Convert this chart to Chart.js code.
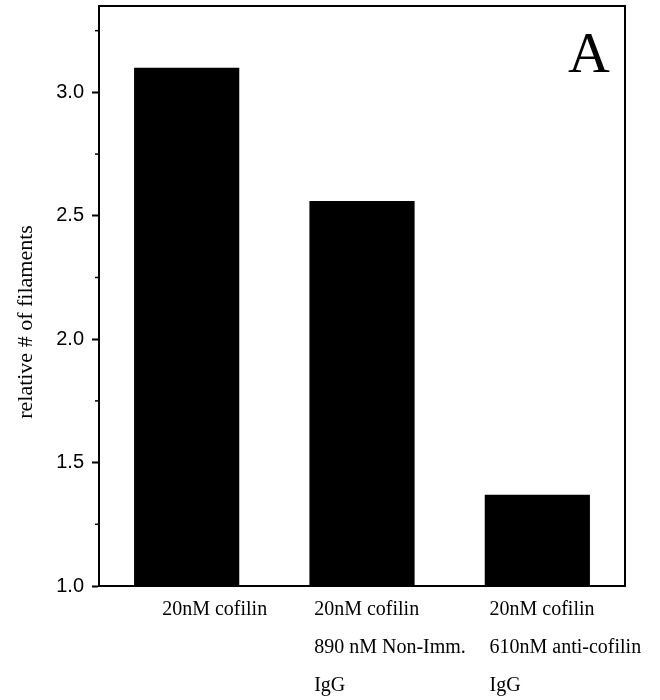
<!DOCTYPE html>
<html><head><meta charset="utf-8">
<script src="https://cdn.jsdelivr.net/npm/chart.js@4/dist/chart.umd.min.js"></script>
<style>html,body{margin:0;padding:0;background:#fff}</style>
</head><body>
<canvas id="c" width="660" height="700" style="width:660px;height:700px;display:block"></canvas>
<script>
// ---- data ----
const categories = [
  ["20nM cofilin"],
  ["20nM cofilin", "890 nM Non-Imm.", "IgG"],
  ["20nM cofilin", "610nM anti-cofilin", "IgG"]
];
const values = [3.10, 2.56, 1.37];
const yTicks = [1.0, 1.5, 2.0, 2.5, 3.0];
const yMinorTicks = [1.25, 1.75, 2.25, 2.75, 3.25];
const yTitle = "relative # of filaments";
const panelLabel = "A";

const serif = '"Liberation Serif", "Times New Roman", serif';
const sans = '"Liberation Sans", Arial, sans-serif';

const extras = {
  id: 'extras',
  afterDraw(chart) {
    const ctx = chart.ctx;
    const {left, top, right, bottom} = chart.chartArea;
    const xs = chart.scales.x, ys = chart.scales.y;
    ctx.save();
    // frame (top & right)
    ctx.strokeStyle = '#000';
    ctx.lineWidth = 2;
    ctx.beginPath();
    ctx.moveTo(left - 1, top);
    ctx.lineTo(right, top);
    ctx.lineTo(right, bottom + 1);
    ctx.stroke();
    // minor ticks
    ctx.lineWidth = 1.5;
    yMinorTicks.forEach(v => {
      const y = ys.getPixelForValue(v);
      ctx.beginPath();
      ctx.moveTo(left - 4, y);
      ctx.lineTo(left, y);
      ctx.stroke();
    });
    // category labels: left-aligned lines, block centred near tick
    ctx.fillStyle = '#000';
    ctx.font = '20px ' + serif;
    ctx.textAlign = 'left';
    ctx.textBaseline = 'alphabetic';
    categories.forEach((lines, i) => {
      const cx = xs.getPixelForTick(i) + 28;
      const w = Math.max(...lines.map(l => ctx.measureText(l).width));
      const lx = cx - w / 2;
      lines.forEach((l, j) => ctx.fillText(l, lx, bottom + 29 + j * 38));
    });
    // y title
    ctx.font = '22px ' + serif;
    ctx.textAlign = 'center';
    ctx.textBaseline = 'middle';
    ctx.translate(26, (top + bottom) / 2 + 26);
    ctx.rotate(-Math.PI / 2);
    ctx.fillText(yTitle, 0, 0);
    ctx.restore();
    // panel label
    ctx.save();
    ctx.fillStyle = '#000';
    ctx.font = '58px ' + serif;
    ctx.textAlign = 'right';
    ctx.textBaseline = 'alphabetic';
    ctx.fillText(panelLabel, right - 15, top + 66);
    ctx.restore();
  }
};

new Chart(document.getElementById('c'), {
  type: 'bar',
  data: {
    labels: categories,
    datasets: [{
      data: values,
      backgroundColor: '#000',
      borderWidth: 0,
      categoryPercentage: 1.0,
      barPercentage: 0.6
    }]
  },
  options: {
    responsive: false,
    animation: false,
    devicePixelRatio: 1,
    layout: {padding: {top: 6, right: 35, left: 0, bottom: 0}},
    plugins: {legend: {display: false}, tooltip: {enabled: false}},
    scales: {
      x: {
        grid: {display: false},
        border: {display: true, color: '#000', width: 2},
        ticks: {display: false},
        afterFit(s) { s.height = 114; s.paddingLeft = 0; s.paddingRight = 0; }
      },
      y: {
        min: 1.0,
        max: 3.35,
        afterBuildTicks(s) { s.ticks = yTicks.map(v => ({value: v})); },
        afterFit(s) { s.width = 99; s.paddingTop = 0; s.paddingBottom = 0; },
        grid: {drawOnChartArea: false, tickLength: 7, tickColor: '#000', tickWidth: 2},
        border: {display: true, color: '#000', width: 2},
        ticks: {
          color: '#000',
          padding: 8,
          font: {family: sans, size: 20},
          callback: v => Number(v).toFixed(1)
        }
      }
    }
  },
  plugins: [extras]
});
</script>
</body></html>
